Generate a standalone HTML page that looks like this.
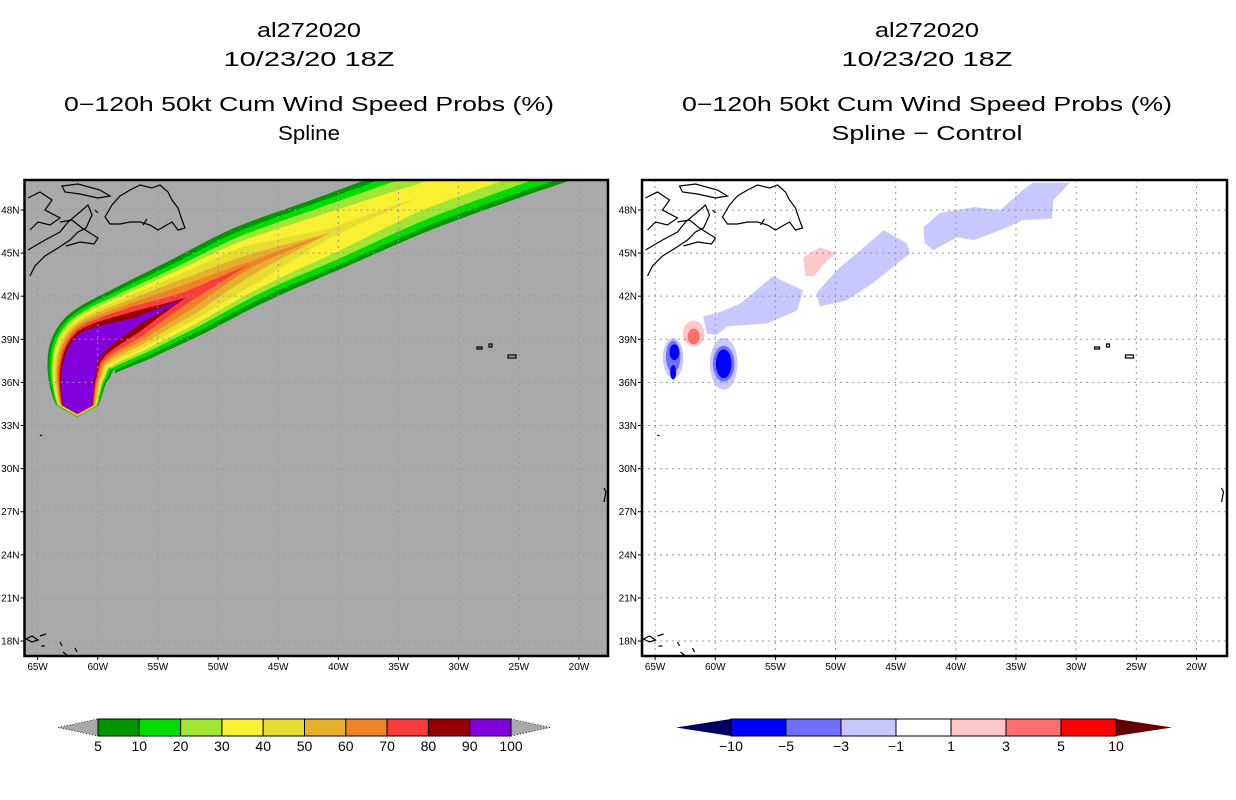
<!DOCTYPE html>
<html><head><meta charset="utf-8"><style>
html,body{margin:0;padding:0;background:#fff;}
svg{display:block;font-family:"Liberation Sans",sans-serif;}
</style></head><body>
<svg id="fig" width="1236" height="800" viewBox="0 0 1236 800" xmlns="http://www.w3.org/2000/svg">
<defs>
<clipPath id="clipL"><rect x="24.5" y="180" width="583.5" height="476"/></clipPath>
<clipPath id="clipR"><rect x="642" y="180" width="585" height="476"/></clipPath>
</defs>
<g font-size="20" text-anchor="middle" fill="#000">
<text x="309" y="37" textLength="104" lengthAdjust="spacingAndGlyphs">al272020</text>
<text x="309" y="66" textLength="171" lengthAdjust="spacingAndGlyphs">10/23/20 18Z</text>
<text x="309" y="111" textLength="490" lengthAdjust="spacingAndGlyphs">0−120h 50kt Cum Wind Speed Probs (%)</text>
<text x="309" y="140" textLength="62" lengthAdjust="spacingAndGlyphs">Spline</text>
</g>
<g font-size="20" text-anchor="middle" fill="#000">
<text x="927" y="37" textLength="104" lengthAdjust="spacingAndGlyphs">al272020</text>
<text x="927" y="66" textLength="171" lengthAdjust="spacingAndGlyphs">10/23/20 18Z</text>
<text x="927" y="111" textLength="490" lengthAdjust="spacingAndGlyphs">0−120h 50kt Cum Wind Speed Probs (%)</text>
<text x="927" y="140" textLength="191" lengthAdjust="spacingAndGlyphs">Spline − Control</text>
</g>
<rect x="24.5" y="180" width="583.5" height="476" fill="#a9a9a9"/>
<g id="leftSwath" clip-path="url(#clipL)"></g>
<g id="rightDiff" clip-path="url(#clipR)"></g>
<g id="grids"></g>
<g id="coastL" clip-path="url(#clipL)" fill="none" stroke="#000" stroke-width="1.2">
<g id="coast">
<path d="M28,198 L40,192 L52,200 L45,210 L60,218 L50,225 L38,222 L30,230"/>
<path d="M28,250 L45,240 L60,232 L68,222 L80,212 L88,205 L92,215 L86,228 L78,232 L70,240 L58,248 L45,256 L35,266 L30,276"/>
<path d="M60,222 L72,220 L82,228 L98,238 L94,244 L80,242 L66,246"/>
<path d="M62,186 L78,184 L100,190 L110,196 L98,198 L80,194 L65,192 Z"/>
<path d="M105,217 L112,205 L120,196 L130,190 L140,185 L152,188 L160,185 L168,192 L172,200 L178,208 L182,220 L185,228 L178,230 L172,222 L165,226 L158,230 L150,225 L140,222 L130,222 L120,224 L110,224 Z"/>
<path d="M143,225 L147,219"/>
<path d="M95,210 L98,213"/>
<path d="M477,347 L482,347 L482,349 L477,349 Z"/>
<path d="M489,344 L492,344 L492,347 L489,347 Z"/>
<path d="M508,355 L516,355 L516,358 L508,358 Z"/>
<path d="M40,435 L42,436"/>
<path d="M26,639 L32,636 L38,640 L32,642 Z"/>
<path d="M40,636 L46,634"/>
<path d="M41,646 L45,646"/>
<path d="M60,642 L62,646"/>
<path d="M63,652 L68,656"/>
<path d="M75,648 L77,652"/>
<path d="M604,488 L606,492 L604,502"/>
</g>
</g>
<g clip-path="url(#clipR)" fill="none" stroke="#000" stroke-width="1.2">
<use href="#coast" transform="translate(617.5,0)"/>
</g>
<rect x="24.5" y="180" width="583.5" height="476" fill="none" stroke="#000" stroke-width="2.5"/>
<rect x="642" y="180" width="585" height="476" fill="none" stroke="#000" stroke-width="2.5"/>
<g id="axes" font-size="10" fill="#000"></g>
<g id="cbL"></g>
<g id="cbR"></g>
</svg>
<script>
// ---- data ----
const trackLon = [-61.7,-61.6,-60.6,-56.9,-52.7,-47.3,-40.7,-33.2,-24.9,-16.6];
const trackLat = [34.4,36.7,38.6,40.2,41.9,44.2,46.4,48.9,51.3,53.5];
const probLevels = [5,10,20,30,40,50,60,70,80,90];
const halfWidth5  = [1.45,2.2,2.6,2.75,2.8,2.8,2.6,2.4,2.3,2.2];
const halfWidth10 = [1.4,2.05,2.4,2.5,2.5,2.45,2.3,2.05,1.95,1.9];
const halfWidth20 = [1.35,1.9,2.2,2.25,2.2,2.1,1.9,1.6,1.45,1.4];
const halfWidth30 = [1.3,1.8,2.05,2.05,1.95,1.75,1.4,0.9,0.8,0.8];
const halfWidth40 = [1.25,1.7,1.9,1.85,1.65,1.35,0.3,0,0,0];
const halfWidth50 = [1.2,1.6,1.75,1.6,1.3,0.7,0,0,0,0];
const halfWidth60 = [1.15,1.5,1.6,1.35,0.9,0.2,0,0,0,0];
const halfWidth70 = [1.1,1.4,1.45,1.1,0.4,0,0,0,0,0];
const halfWidth80 = [1.05,1.3,1.3,0.75,0,0,0,0,0,0];
const halfWidth90 = [1.0,1.2,1.1,0.3,0,0,0,0,0,0];
const probColors = ["#009600","#00dc00","#a0e632","#f8f030","#e6dc32","#e6af2d","#f08228","#fa3c3c","#960000","#8200dc"];
const probTicks = ["5","10","20","30","40","50","60","70","80","90","100"];

const diffBandALon = [-61.0,-59.9,-57.9,-55.2,-52.7,-53.2,-55.7,-59.0,-59.9,-60.7];
const diffBandALat = [40.6,40.8,41.5,43.4,42.4,41.0,40.1,39.9,39.3,39.4];
const diffBandBLon = [-51.6,-49.9,-46.0,-44.1,-43.8,-46.9,-49.1,-51.3];
const diffBandBLat = [42.2,43.8,46.6,45.7,45.0,42.9,41.7,41.3];
const diffBandCLon = [-42.7,-41.3,-38.5,-36.3,-34.4,-33.6,-30.5,-31.9,-32.0,-34.4,-36.3,-38.5,-39.9,-41.9,-42.6];
const diffBandCLat = [46.8,47.8,48.2,48.0,49.4,49.9,49.9,48.7,47.4,47.3,46.6,45.9,46.1,45.2,45.7];
const diffPinkLon = [-52.7,-51.3,-49.9,-50.7,-51.8,-52.5];
const diffPinkLat = [44.7,45.4,45.0,44.5,43.4,43.4];
const blobLon = [-61.8,-61.8,-63.5,-63.5,-63.4,-63.5,-59.3,-59.3,-59.3];
const blobLat = [39.4,39.2,37.7,37.8,38.1,36.7,37.3,37.3,37.3];
const blobRLon = [0.9,0.5,0.85,0.6,0.4,0.25,1.15,0.9,0.65];
const blobRLat = [0.9,0.55,1.4,1.1,0.55,0.5,1.8,1.25,1.0];
const blobLevel = [2,4,-2,-4,-7,-7,-2,-4,-7];
const diffTicks = ["−10","−5","−3","−1","1","3","5","10"];
const diffColors = ["#0000ff","#6e6eff","#c8c8ff","#ffffff","#ffc8c8","#ff6e6e","#ff0000"];
const diffEdges = [-10,-5,-3,-1,1,3,5,10];
const lonTicks = [-65,-60,-55,-50,-45,-40,-35,-30,-25,-20];
const latTicks = [18,21,24,27,30,33,36,39,42,45,48];

// ---- axes functions ----
const NS = "http://www.w3.org/2000/svg";
function X(lon, panel){ return (panel ? 617.5 : 0) + 37.6 + (lon + 65) * 12.03; }
function Y(lat){ return 382.4 - (lat - 36) * 14.37; }
function mk(tag, attrs, parent){ const e = document.createElementNS(NS, tag); for (const k in attrs) e.setAttribute(k, attrs[k]); parent.appendChild(e); return e; }
function diffColor(v){ for (let i = 0; i < diffEdges.length - 1; i++){ if (v >= diffEdges[i] && v < diffEdges[i+1]) return diffColors[i]; } return v < 0 ? "#000080" : "#6e0000"; }

// ---- left swath (smoothed along track) ----
const widths = [halfWidth5,halfWidth10,halfWidth20,halfWidth30,halfWidth40,halfWidth50,halfWidth60,halfWidth70,halfWidth80,halfWidth90];
const gL = document.getElementById('leftSwath');
const px = trackLon.map(l => X(l, 0));
const py = trackLat.map(Y);
function cr(p0,p1,p2,p3,t){ const t2=t*t,t3=t2*t; return 0.5*((2*p1)+(-p0+p2)*t+(2*p0-5*p1+4*p2-p3)*t2+(-p0+3*p1-3*p2+p3)*t3); }
const SUB = 10;
const sx = [], sy = [], sIdx = [];
for (let i = 0; i < px.length - 1; i++){
  const a = Math.max(0,i-1), d = Math.min(px.length-1,i+2);
  for (let k = 0; k < SUB; k++){
    const t = k / SUB;
    sx.push(cr(px[a],px[i],px[i+1],px[d],t));
    sy.push(cr(py[a],py[i],py[i+1],py[d],t));
    sIdx.push(i + t);
  }
}
sx.push(px[px.length-1]); sy.push(py[py.length-1]); sIdx.push(px.length-1);
widths.forEach((w, li) => {
  const left = [], right = [];
  for (let j = 0; j < sx.length; j++){
    const f = sIdx[j], i0 = Math.floor(f), i1 = Math.min(w.length-1, i0+1), t = f - i0;
    const ww = w[i0]*(1-t) + w[i1]*t;
    if (ww <= 0.02){ left.push([sx[j], sy[j]]); break; }
    const a = Math.max(0, j-1), b = Math.min(sx.length-1, j+1);
    let tx = sx[b]-sx[a], ty = sy[b]-sy[a]; const n = Math.hypot(tx, ty) || 1; tx/=n; ty/=n;
    const r = ww * 14.37;
    left.push([sx[j] - ty*r, sy[j] + tx*r]);
    right.push([sx[j] + ty*r, sy[j] - tx*r]);
  }
  const cap = [px[0], py[0] + w[0]*8];
  const pts = [cap].concat(left, right.reverse());
  const poly = mk('polygon', {points: pts.map(p => p[0].toFixed(1)+','+p[1].toFixed(1)).join(' '), fill: probColors[li], 'stroke-linejoin':'round'}, gL);
  
  
});

// ---- right diff ----
const gR = document.getElementById('rightDiff');
function drawPoly(lons, lats, val, name){
  const p = mk('polygon', {points: lons.map((l,i) => X(l,1).toFixed(1)+','+Y(lats[i]).toFixed(1)).join(' '), fill: diffColor(val)}, gR);
  
  
}
drawPoly(diffBandALon, diffBandALat, -2, 'negative-band-a');
drawPoly(diffBandBLon, diffBandBLat, -2, 'negative-band-b');
drawPoly(diffBandCLon, diffBandCLat, -2, 'negative-band-c');
drawPoly(diffPinkLon, diffPinkLat, 2, 'positive-patch');
blobLon.forEach((l, i) => {
  const e = mk('ellipse', {cx: X(l,1), cy: Y(blobLat[i]), rx: blobRLon[i]*12.03, ry: blobRLat[i]*14.37, fill: diffColor(blobLevel[i])}, gR);
  
  
});

// ---- grids & axes ----
const gG = document.getElementById('grids');
const gA = document.getElementById('axes');
[0,1].forEach(panel => {
  const x0 = panel ? 642 : 24.5, x1 = panel ? 1227 : 608;
  lonTicks.forEach(l => {
    const x = X(l, panel);
    const ln = mk('line', {x1:x, x2:x, y1:180, y2:656, stroke:'#999999', 'stroke-dasharray':'2,4', 'stroke-width':1}, gG);
    
    
    const tk = mk('line', {x1:x, x2:x, y1:656, y2:660, stroke:'#000'}, gA);
    
    
    const t = mk('text', {x:x, y:670, 'text-anchor':'middle'}, gA);
    t.textContent = Math.abs(l) + 'W';
    
    
  });
  latTicks.forEach(la => {
    const y = Y(la);
    const ln = mk('line', {x1:x0, x2:x1, y1:y, y2:y, stroke:'#999999', 'stroke-dasharray':'2,4', 'stroke-width':1}, gG);
    
    
    const tk = mk('line', {x1:x0-4, x2:x0, y1:y, y2:y, stroke:'#000'}, gA);
    
    
    const t = mk('text', {x:x0-5, y:y+3.5, 'text-anchor':'end'}, gA);
    t.textContent = la + 'N';
    
    
  });
});

// ---- colorbars ----
function colorbar(g, colors, ticks, bx0, bx1, tipL, tipR, leftFill, rightFill, dashed){
  const y0 = 719, y1 = 736, ym = 727.5, bw = (bx1 - bx0) / colors.length;
  const tl = mk('polygon', {points:`${tipL},${ym} ${bx0},${y0} ${bx0},${y1}`, fill:leftFill, stroke: dashed ? '#000' : 'none', 'stroke-dasharray':'1,2', 'stroke-width':0.8}, g);
  
  
  const tr = mk('polygon', {points:`${tipR},${ym} ${bx1},${y0} ${bx1},${y1}`, fill:rightFill, stroke: dashed ? '#000' : 'none', 'stroke-dasharray':'1,2', 'stroke-width':0.8}, g);
  
  
  colors.forEach((c, i) => {
    const r = mk('rect', {x: bx0 + i*bw, y: y0, width: bw, height: y1-y0, fill: c, stroke:'#000', 'stroke-width':1}, g);
    
    
  });
  ticks.forEach((t, i) => {
    const tx = mk('text', {x: bx0 + i*bw, y: 751, 'text-anchor':'middle', 'font-size':14}, g);
    tx.textContent = t;
    
    
  });
}
colorbar(document.getElementById('cbL'), probColors, probTicks, 98, 511, 58, 550, '#a9a9a9', '#a9a9a9', true);
colorbar(document.getElementById('cbR'), diffColors, diffTicks, 731, 1116, 676, 1172, '#000064', '#640000', false);
</script>
</body></html>
